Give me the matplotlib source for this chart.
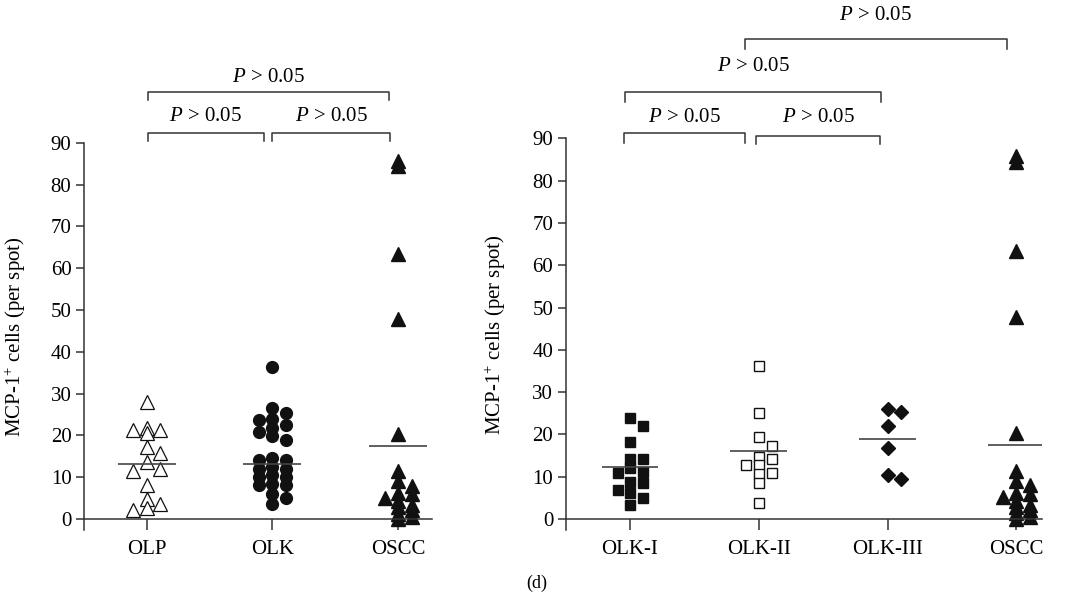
import numpy as np
import matplotlib.pyplot as plt

plt.rcParams['font.family'] = 'Liberation Serif'
plt.rcParams['mathtext.fontset'] = 'custom'
plt.rcParams['mathtext.rm'] = 'Liberation Serif'
plt.rcParams['mathtext.it'] = 'Liberation Serif:italic'

# values (MCP-1+ cells per spot)
groups_a = ['OLP', 'OLK', 'OSCC']
groups_b = ['OLK-I', 'OLK-II', 'OLK-III', 'OSCC']

olp = [28.1, 21.9, 21.3, 21.3, 20.5, 17.3, 15.7, 13.6, 12.0, 11.6, 8.1, 4.9, 3.7, 2.6, 2.2]
olk = [36.3, 26.5, 25.3, 23.9, 23.7, 22.5, 21.7, 20.9, 19.9, 18.9, 14.5, 14.1, 14.1,
       12.5, 12.1, 12.1, 10.5, 10.1, 10.1, 8.5, 8.1, 8.1, 5.9, 5.0, 3.5]
oscc = [85.7, 84.5, 63.3, 47.8, 20.4, 11.4, 9.0, 8.0, 6.2, 5.9, 5.1, 4.3, 3.3, 2.8,
        2.1, 1.3, 0.5, 0.0]
olk1 = [23.9, 22.1, 18.1, 14.3, 14.3, 12.0, 11.2, 10.8, 8.8, 8.4, 6.9, 6.1, 4.9, 3.3]
olk2 = [36.2, 25.0, 19.3, 17.3, 14.7, 14.3, 12.8, 12.8, 10.8, 10.6, 8.4, 3.7]
olk3 = [26.0, 25.2, 21.9, 16.8, 10.3, 9.5]

means_a = [13.2, 13.2, 17.5]
means_b = [12.2, 16.1, 18.9, 17.6]

ptext = '$P$ > 0.05'
ylab = 'MCP-1$^{+}$ cells (per spot)'

fig = plt.figure(figsize=(10.75, 5.99), dpi=100)
ax1 = fig.add_axes([0.0781, 0.1152, 0.3237, 0.6466])
ax2 = fig.add_axes([0.5262, 0.1152, 0.4431, 0.6539])

line_c = '#333333'
fs = 15


def setup(ax, labels, xmax, lab_x):
    ax.set_xlim(-0.5, xmax)
    ax.set_ylim(-2.6, 90)
    for s in ['top', 'right']:
        ax.spines[s].set_visible(False)
    ax.spines['bottom'].set_position(('data', 0))
    for s in ['left', 'bottom']:
        ax.spines[s].set_color(line_c)
        ax.spines[s].set_linewidth(1.1)
    ax.set_yticks(range(0, 91, 10))
    ax.set_xticks(range(len(labels)))
    ax.set_xticklabels(labels)
    ax.tick_params(axis='y', direction='out', length=6, width=1.1, color=line_c,
                   labelsize=fs, pad=3)
    ax.tick_params(axis='x', direction='out', length=8, width=1.1, color=line_c,
                   labelsize=fs, pad=7)
    ax.set_ylabel(ylab, fontsize=fs)
    ax.yaxis.set_label_coords(lab_x, 0.5)


def swarm_x(vals, pos, ax, step_px=13.5, gap_px=8.5):
    # simple column scatter: three columns, pick the first one with room
    (x0, y0), (x1, y1) = ax.transData.transform([(0, 0), (1, 1)])
    sx, sy = x1 - x0, y1 - y0
    vals = np.asarray(vals)
    xs = np.empty(len(vals))
    placed = []
    for i in np.argsort(-vals, kind='stable'):
        y = vals[i] * sy
        best, best_d = 0, -1
        for k in [0, 1, -1]:
            d = min([abs(y - py) for c, py in placed if c == k], default=1e9)
            if d >= gap_px:
                best = k
                break
            if d > best_d:
                best, best_d = k, d
        placed.append((best, y))
        xs[i] = pos + best * step_px / sx
    return xs


def bracket(ax, xa, xb, y, leg, ty):
    ax.plot([xa, xa, xb, xb], [y - leg, y, y, y - leg], color=line_c, lw=1.1,
            clip_on=False)
    ax.text((xa + xb) / 2, ty, ptext, ha='center', va='center', fontsize=fs)


setup(ax1, groups_a, 2.27, -0.16)
setup(ax2, groups_b, 3.2, -0.121)

# left panel
ax1.plot(swarm_x(olp, 0, ax1), olp, '^', ms=9.5, mfc='white', mec='#111111',
         mew=0.9, ls='none', clip_on=False)
ax1.plot(swarm_x(olk, 1, ax1, gap_px=7), olk, 'o', ms=8.5, color='#111111',
         ls='none', clip_on=False)
ax1.plot(swarm_x(oscc, 2, ax1, gap_px=5), oscc, '^', ms=9.5, color='#111111',
         ls='none', clip_on=False)
for i, m in enumerate(means_a):
    ax1.hlines(m, i - 0.23, i + 0.23, color='#444444', lw=1.2)

bracket(ax1, 0.01, 0.93, 92.4, 2.1, 96.2)
bracket(ax1, 1.0, 1.94, 92.4, 2.1, 96.2)
bracket(ax1, 0.01, 1.93, 102.2, 2.1, 105.7)

# right panel
ax2.plot(swarm_x(olk1, 0, ax2, 12.5), olk1, 's', ms=7.5, color='#111111',
         ls='none', clip_on=False)
ax2.plot(swarm_x(olk2, 1, ax2, 13), olk2, 's', ms=7, mfc='white',
         mec='#111111', mew=1.0, ls='none', clip_on=False)
ax2.plot(swarm_x(olk3, 2, ax2, 13.5, 12), olk3, 'D', ms=7, color='#111111',
         ls='none', clip_on=False)
ax2.plot(swarm_x(oscc, 3, ax2, gap_px=5), oscc, '^', ms=9.5, color='#111111',
         ls='none', clip_on=False)
for i, m in enumerate(means_b):
    ax2.hlines(m, i - 0.22, i + 0.22, color='#444444', lw=1.2)

bracket(ax2, -0.05, 0.895, 91.2, 2.4, 95.0)
bracket(ax2, 0.98, 1.94, 90.5, 1.8, 95.0)
bracket(ax2, -0.04, 1.95, 100.9, 2.3, 106.9)
bracket(ax2, 0.89, 2.93, 113.5, 2.4, 119.1)

fig.text(537 / 1075, 1 - 583 / 599, '(d)', ha='center', va='center', fontsize=13)

fig.savefig('out.png', dpi=100)
